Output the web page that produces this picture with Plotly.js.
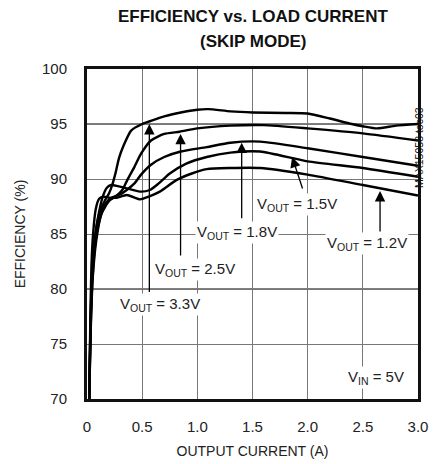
<!DOCTYPE html>
<html>
<head>
<meta charset="utf-8">
<script src="https://cdn.plot.ly/plotly-3.0.1.min.js"></script>
<style>html,body{margin:0;padding:0;background:#fff;}#chart{width:441px;height:464px;}</style>
</head>
<body>
<div id="chart"></div>
<script>
// Output current (A) and efficiency (%) for each V_OUT
const i33 = [0.02,0.03,0.045,0.07,0.11,0.16,0.2,0.23,0.26,0.29,0.33,0.4,0.5,0.57,0.7,0.85,1.0,1.1,1.3,1.5,1.8,2.0,2.2,2.4,2.5,2.63,2.8,3.0];
const e33 = [70,76,81,84.5,86.8,88.0,88.7,89.5,90.6,91.9,93.0,94.4,95.0,95.25,95.7,96.05,96.3,96.35,96.15,96.05,96.0,95.95,95.5,95.0,94.8,94.6,94.85,95.0];

const i25 = [0.02,0.033,0.052,0.085,0.13,0.2,0.27,0.32,0.365,0.43,0.49,0.58,0.7,0.84,1.0,1.3,1.6,2.0,2.5,3.0];
const e25 = [70,76,81,84.5,86.8,88.0,88.5,89.0,89.9,91.1,92.3,93.5,94.1,94.3,94.6,94.85,94.9,94.6,94.15,93.5];

const i18 = [0.02,0.032,0.05,0.08,0.12,0.17,0.22,0.3,0.36,0.43,0.49,0.58,0.7,0.85,1.085,1.3,1.57,2.0,2.5,3.0];
const e18 = [70,76,81,84.5,86.5,87.8,88.3,88.6,89.0,89.6,90.4,91.3,92.0,92.5,92.9,93.3,93.4,92.8,92.0,91.2];

const i15 = [0.02,0.03,0.045,0.07,0.1,0.14,0.18,0.22,0.28,0.36,0.48,0.57,0.65,0.75,0.9,1.085,1.3,1.57,2.0,2.5,3.0];
const e15 = [70,76,81,84.5,86.5,88.3,89.2,89.45,89.35,89.15,88.85,89.0,89.6,90.5,91.4,92.0,92.4,92.5,91.6,91.0,90.2];

const i12 = [0.02,0.03,0.04,0.055,0.08,0.11,0.15,0.2,0.27,0.36,0.48,0.56,0.66,0.81,0.95,1.085,1.3,1.57,2.0,2.5,3.0];
const e12 = [70,77,82,85,87.3,88.2,88.4,88.3,88.3,88.55,88.15,88.4,88.85,89.9,90.5,90.9,91.0,91.0,90.4,89.45,88.5];

const xTickVals = [0,0.5,1.0,1.5,2.0,2.5,3.0];
const xTickText = ['0','0.5','1.0','1.5','2.0','2.5','3.0'];
const yTickVals = [70,75,80,85,90,95,100];
const yTickText = ['70','75','80','85','90','95','100'];

// Label texts with their anchor points, and arrows (tip / tail)
const labelText = ['V<sub>OUT</sub> = 3.3V','V<sub>OUT</sub> = 2.5V','V<sub>OUT</sub> = 1.8V','V<sub>OUT</sub> = 1.5V','V<sub>OUT</sub> = 1.2V','V<sub>IN</sub> = 5V'];
const labelX = [0.66,0.98,1.36,1.90,2.54,2.62];
const labelY = [78.6,81.8,85.1,87.7,84.1,72.0];
const arrowTipX = [0.565,0.848,1.402,1.859,2.656];
const arrowTipY = [95.0,94.1,93.3,92.0,88.9];
const arrowTailX = [0.565,0.848,1.402,1.958,2.656];
const arrowTailY = [79.6,82.9,86.3,89.0,85.1];

const titleLines = ['EFFICIENCY vs. LOAD CURRENT','(SKIP MODE)'];

const FONT = 'Liberation Sans, Arial, Helvetica, sans-serif';

const series = [[i33,e33],[i25,e25],[i18,e18],[i15,e15],[i12,e12]];
const traces = series.map(s => ({
  x: s[0], y: s[1], type: 'scatter', mode: 'lines',
  line: {color: '#000', width: 2.4, shape: 'spline', smoothing: 0.6},
  hoverinfo: 'skip', showlegend: false
}));

const annotations = [];
for (let k = 0; k < arrowTipX.length; k++) {
  annotations.push({
    x: arrowTipX[k], y: arrowTipY[k], xref: 'x', yref: 'y',
    ax: arrowTailX[k], ay: arrowTailY[k], axref: 'x', ayref: 'y',
    text: '', showarrow: true, arrowhead: 2, arrowsize: 1.6, arrowwidth: 1.3,
    arrowcolor: '#000', standoff: 0, startstandoff: 0
  });
}
for (let k = 0; k < labelText.length; k++) {
  annotations.push({
    x: labelX[k], y: labelY[k], xref: 'x', yref: 'y',
    text: labelText[k], showarrow: false, bgcolor: '#fff',
    font: {family: FONT, size: 15, color: '#222'}, borderpad: 1
  });
}
// title lines (centred over the plot area)
const titleY = [1.159, 1.082];
for (let k = 0; k < titleLines.length; k++) {
  annotations.push({
    x: 0.5, y: titleY[k], xref: 'paper', yref: 'paper', yanchor: 'middle',
    text: '<b>' + titleLines[k] + '</b>', showarrow: false,
    font: {family: FONT, size: 17, color: '#111'}
  });
}
annotations.push({
  x: 1.0287, y: 0.891, xref: 'paper', yref: 'paper',
  text: 'MAX15058 toc03', showarrow: false, textangle: -90,
  font: {family: FONT, size: 10.5, color: '#111'}
});

const shapes = [95,80].map(v => ({
  type: 'line', xref: 'paper', yref: 'y', x0: 0, x1: 1, y0: v, y1: v,
  line: {color: '#000', width: 1}, layer: 'below'
}));

const layout = {
  width: 441, height: 464,
  margin: {l: 87, r: 23, t: 69, b: 65},
  paper_bgcolor: '#fff', plot_bgcolor: '#fff',
  font: {family: FONT, size: 15, color: '#222'},
  xaxis: {
    range: [0, 3], tickvals: xTickVals, ticktext: xTickText,
    showgrid: true, gridcolor: '#777', gridwidth: 1, zeroline: false,
    showline: true, linecolor: '#111', linewidth: 3, mirror: true,
    ticks: 'outside', ticklen: 12, tickcolor: 'rgba(0,0,0,0)',
    tickfont: {family: FONT, size: 15, color: '#222'},
    title: {text: 'OUTPUT CURRENT (A)', standoff: 13, font: {family: FONT, size: 14, color: '#222'}}
  },
  yaxis: {
    range: [70, 100], tickvals: yTickVals, ticktext: yTickText,
    showgrid: true, gridcolor: '#777', gridwidth: 1, zeroline: false,
    showline: true, linecolor: '#111', linewidth: 3, mirror: true,
    ticks: 'outside', ticklen: 14, tickcolor: 'rgba(0,0,0,0)',
    tickfont: {family: FONT, size: 15, color: '#222'},
    title: {text: 'EFFICIENCY (%)', standoff: 14, font: {family: FONT, size: 14, color: '#222'}}
  },
  shapes: shapes,
  annotations: annotations,
  showlegend: false
};

Plotly.newPlot('chart', traces, layout, {staticPlot: true, displayModeBar: false});
</script>
</body>
</html>
